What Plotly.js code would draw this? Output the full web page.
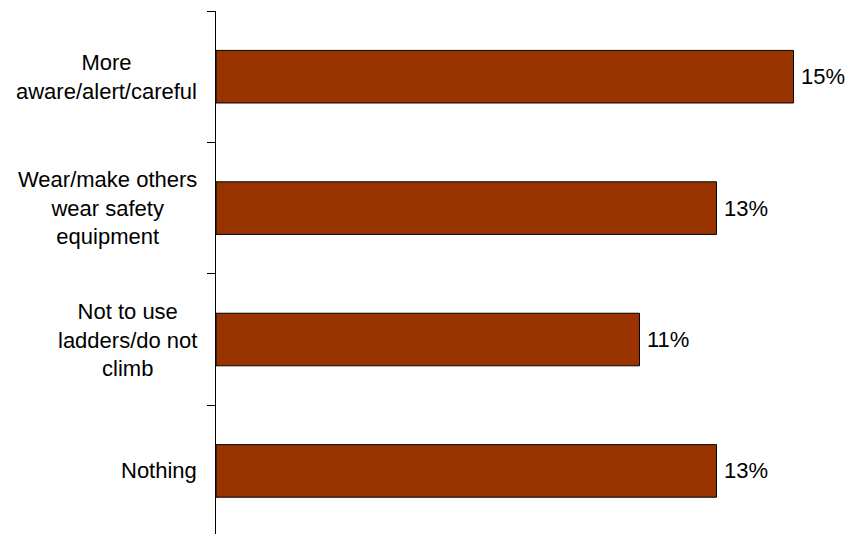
<!DOCTYPE html>
<html>
<head>
<meta charset="utf-8">
<script src="https://cdn.plot.ly/plotly-3.0.1.min.js"></script>
<style>html,body{margin:0;padding:0;background:#fff;}#chart{width:850px;height:534px;}</style>
</head>
<body>
<div id="chart"></div>
<script>
const categories = [
  "More<br>aware/alert/careful",
  "Wear/make others<br>wear safety<br>equipment",
  "Not to use<br>ladders/do not<br>climb",
  "Nothing"
];
const values = [15, 13, 11, 13];
const valueLabels = ["15%", "13%", "11%", "13%"];

const FONT = "Liberation Sans, Arial, sans-serif";

const trace = {
  type: "bar",
  orientation: "h",
  x: values,
  y: categories,
  width: 0.4,
  marker: { color: "#993300", line: { color: "#000000", width: 1 } },
  text: valueLabels,
  texttemplate: "\u2009%{text}",
  textposition: "outside",
  textfont: { family: FONT, size: 22, color: "#000000" },
  cliponaxis: false,
  hoverinfo: "skip"
};

const annotations = categories.map(c => ({
  xref: "paper", yref: "y",
  x: 0, y: c,
  xanchor: "right", yanchor: "middle",
  xshift: -17,
  text: c, align: "center", showarrow: false,
  font: { family: FONT, size: 22, color: "#000000" }
}));

const layout = {
  width: 850, height: 534,
  margin: { l: 216, r: 18, t: 11, b: 0, pad: 0 },
  paper_bgcolor: "#ffffff", plot_bgcolor: "#ffffff",
  showlegend: false,
  xaxis: { range: [0, 16], visible: false, fixedrange: true },
  yaxis: {
    type: "category",
    range: [3.48, -0.5],
    showline: true, linecolor: "#000000", linewidth: 1,
    ticks: "outside", ticklen: 8, tickcolor: "#000000", tickwidth: 1,
    tickson: "boundaries",
    showticklabels: false, showgrid: false, zeroline: false
  },
  annotations: annotations
};

Plotly.newPlot("chart", [trace], layout, { staticPlot: true, displayModeBar: false });
</script>
</body>
</html>
